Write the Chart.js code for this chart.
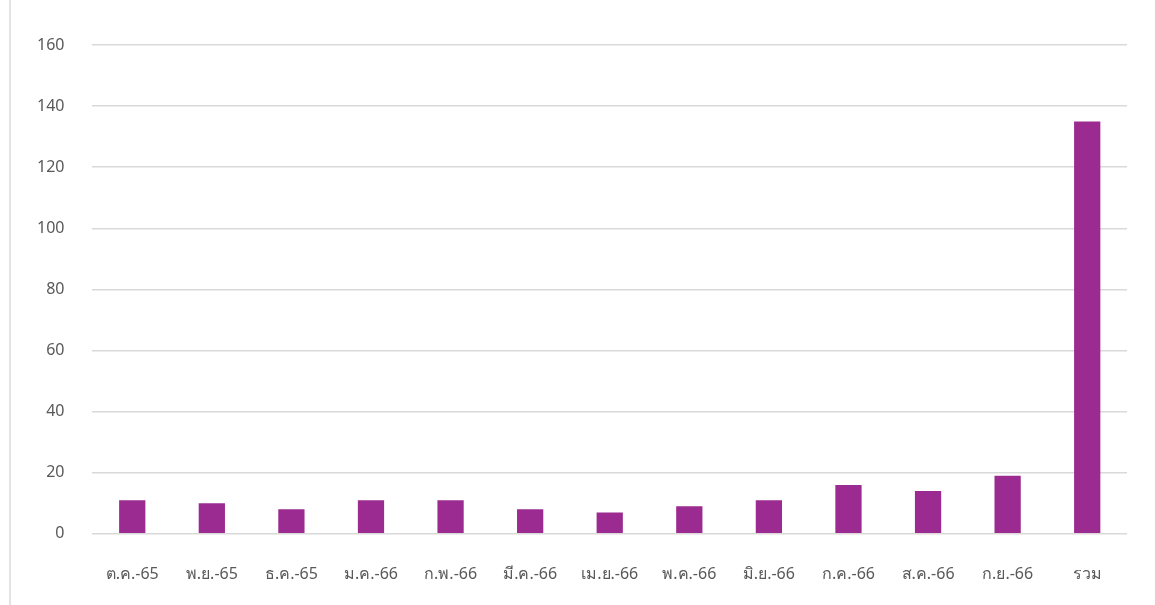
<!DOCTYPE html>
<html>
<head>
<meta charset="utf-8">
<script src="https://cdn.jsdelivr.net/npm/chart.js@4.4.0/dist/chart.umd.min.js"></script>
<style>
  html, body { margin: 0; padding: 0; background: #fff; overflow: hidden; }
  #wrap { position: relative; width: 1155px; height: 605px; overflow: hidden; }
  #edge { position: absolute; left: 9px; top: 0; width: 2px; height: 605px; background: #e3e3e3; }
  canvas { position: absolute; left: 0; top: 0; }
</style>
</head>
<body>
<div id="wrap">
  <div id="edge"></div>
  <canvas id="barChart" width="1155" height="609"></canvas>
</div>
<script>
const months = ["ต.ค.-65", "พ.ย.-65", "ธ.ค.-65", "ม.ค.-66", "ก.พ.-66", "มี.ค.-66", "เม.ย.-66",
  "พ.ค.-66", "มิ.ย.-66", "ก.ค.-66", "ส.ค.-66", "ก.ย.-66", "รวม"];
const counts = [11, 10, 8, 11, 11, 8, 7, 9, 11, 16, 14, 19, 135];
const yTicks = [0, 20, 40, 60, 80, 100, 120, 140, 160];

document.addEventListener("DOMContentLoaded", function () {
  const ctx = document.getElementById("barChart").getContext("2d");
  new Chart(ctx, {
    type: "bar",
    data: {
      labels: months,
      datasets: [
        {
          label: "จำนวน",
          data: counts,
          backgroundColor: "#9c2b91",
          barPercentage: 0.33,
          categoryPercentage: 1,
        },
      ],
    },
    options: {
      responsive: false,
      animation: false,
      layout: { padding: { left: 9, right: 28, top: 45, bottom: 2 } },
      plugins: { legend: { display: false }, tooltip: { enabled: false } },
      scales: {
        x: {
          grid: { display: false },
          border: { display: false },
          ticks: {
            color: "#595959",
            font: { family: "Noto Sans, sans-serif", size: 16 },
            maxRotation: 0,
            padding: 23,
          },
        },
        y: {
          min: yTicks[0],
          max: yTicks[yTicks.length - 1],
          afterBuildTicks: (axis) => { axis.ticks = yTicks.map((v) => ({ value: v })); },
          grid: { color: "#d9d9d9", lineWidth: 1.5, drawTicks: false },
          border: { display: false },
          ticks: {
            color: "#595959",
            font: { family: "Noto Sans, sans-serif", size: 16 },
            padding: 28,
          },
        },
      },
    },
  });
});
</script>
</body>
</html>
